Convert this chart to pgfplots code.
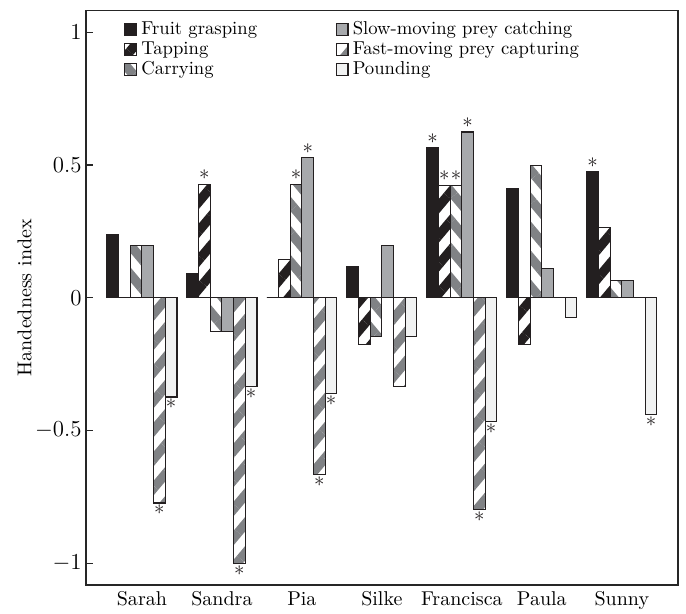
\documentclass[border=0pt]{standalone}
\usepackage{pgfplots}
\pgfplotsset{compat=1.18}
\usetikzlibrary{patterns.meta}
\definecolor{cblack}{HTML}{231F20}
\definecolor{cgrey}{HTML}{808285}
\definecolor{clight}{HTML}{A7A9AC}
\definecolor{cpale}{HTML}{F1F2F2}
\tikzset{
 fruit/.style={fill=cblack, draw=cblack, line width=0.6pt},
 tap/.style={draw=cblack, line width=0.6pt, preaction={fill=white}, pattern={Lines[angle=50,distance=9.8pt,line width=4.9pt]}, pattern color=cblack},
 carry/.style={draw=cblack, line width=0.6pt, preaction={fill=white}, pattern={Lines[angle=-50,distance=9.8pt,line width=4.9pt]}, pattern color=cgrey},
 slow/.style={fill=clight, draw=cblack, line width=0.6pt},
 fast/.style={draw=cblack, line width=0.6pt, preaction={fill=white}, pattern={Lines[angle=50,distance=9.8pt,line width=4.9pt]}, pattern color=cgrey},
 pound/.style={fill=cpale, draw=cblack, line width=0.6pt},
}
\pgfplotsset{
 sqlegend/.style={legend image code/.code={\draw[##1] (0pt,-3.1pt) rectangle (6.2pt,3.1pt);}},
 stars/.style={draw=none, fill=none, forget plot, nodes near coords={$\ast$},
   every node near coord/.append style={inner sep=1.5pt, text height=0.45em, text depth=0.05em, font=\fontsize{10.5}{12}\selectfont, text=cblack}},
}
\begin{document}
\begin{tikzpicture}
\useasboundingbox (-45.1pt,-14.8pt) rectangle (314.9pt,306.9pt);
\begin{axis}[
 at={(0,0)}, anchor=south west,
 scale only axis, width=310.6pt, height=301.3pt,
 xmin=-0.7, xmax=6.7, ymin=-1.081, ymax=1.081,
 ybar, bar width=0.146,
 xtick={0,1,2,3,4,5,6},
 xticklabels={Sarah,Sandra,Pia,Silke,Francisca,Paula,Sunny},
 xtick style={draw=none},
 ytick={-1,-0.5,0,0.5,1}, ytick pos=left, tick align=inside,
 major tick length=3.5pt,
 ylabel={Handedness index},
 ylabel style={at={(ticklabel cs:0.5,-5pt)}},
 axis line style={black!85, line width=0.8pt},
 ytick style={black!85, line width=0.6pt},
 xticklabel style={font=\fontsize{10.5}{12}\selectfont},
 yticklabel style={font=\fontsize{11.5}{13}\selectfont, xshift=1.2pt},
 label style={font=\fontsize{10.5}{12}\selectfont},
 legend columns=2,
 legend cell align=left,
 legend style={draw=none, fill=none, at={(0.0545,1)}, anchor=north west, yshift=-2.2pt,
   font=\fontsize{9.8}{11}\selectfont, row sep=-0.5pt,
   nodes={inner sep=1.2pt, text height=1.55ex, text depth=0.45ex},
   /tikz/every odd column/.append style={column sep=1pt},
   /tikz/every even column/.append style={column sep=40pt}},
]
% Fruit grasping
\addplot[fruit, bar shift=-0.365, forget plot] coordinates {(0,0.236) (1,0.090) (2,0) (3,0.117) (4,0.564) (5,0.411) (6,0.476)};
% Tapping
\addplot[tap, bar shift=-0.219, forget plot] coordinates {(0,0) (1,0.428) (2,0.143) (3,-0.176) (4,0.424) (5,-0.176) (6,0.263)};
% Carrying
\addplot[carry, bar shift=-0.073, forget plot] coordinates {(0,0.196) (1,-0.126) (2,0.428) (3,-0.145) (4,0.424) (5,0.499) (6,0.064)};
% Slow-moving prey catching
\addplot[slow, bar shift=0.073, forget plot] coordinates {(0,0.196) (1,-0.126) (2,0.528) (3,0.196) (4,0.624) (5,0.109) (6,0.064)};
% Fast-moving prey capturing
\addplot[fast, bar shift=0.219, forget plot] coordinates {(0,-0.773) (1,-1.0) (2,-0.667) (3,-0.334) (4,-0.799) (5,0) (6,0)};
% Pounding
\addplot[pound, bar shift=0.365, forget plot] coordinates {(0,-0.374) (1,-0.334) (2,-0.360) (3,-0.145) (4,-0.465) (5,-0.075) (6,-0.441)};
% significance stars
\addplot[stars, bar shift=-0.365] coordinates {(4,0.564) (6,0.476)};
\addplot[stars, bar shift=-0.219] coordinates {(1,0.428) (4,0.424)};
\addplot[stars, bar shift=-0.073] coordinates {(2,0.428) (4,0.424)};
\addplot[stars, bar shift=0.073] coordinates {(2,0.528) (4,0.624)};
\addplot[stars, bar shift=0.219] coordinates {(0,-0.773) (1,-1.0) (2,-0.667) (4,-0.799)};
\addplot[stars, bar shift=0.365] coordinates {(0,-0.374) (1,-0.334) (2,-0.360) (4,-0.465) (6,-0.441)};
% legend
\addlegendimage{sqlegend, fruit}\addlegendentry{Fruit grasping}
\addlegendimage{sqlegend, slow}\addlegendentry{Slow-moving prey catching}
\addlegendimage{sqlegend, tap}\addlegendentry{Tapping}
\addlegendimage{sqlegend, fast}\addlegendentry{Fast-moving prey capturing}
\addlegendimage{sqlegend, carry}\addlegendentry{Carrying}
\addlegendimage{sqlegend, pound}\addlegendentry{Pounding}
\end{axis}
\end{tikzpicture}
\end{document}
